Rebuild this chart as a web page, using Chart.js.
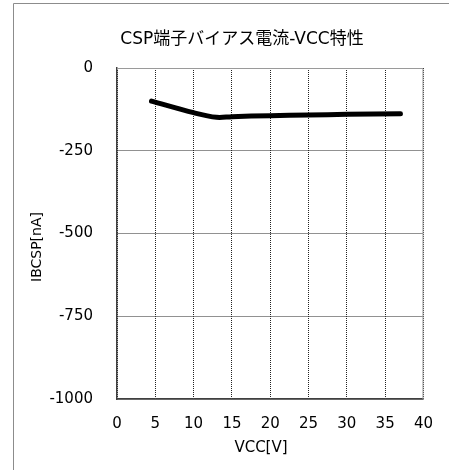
<!DOCTYPE html>
<html>
<head>
<meta charset="utf-8">
<script src="https://cdn.jsdelivr.net/npm/chart.js@4/dist/chart.umd.min.js"></script>
<style>
  html, body { margin: 0; padding: 0; background: #fff; }
  canvas { display: block; }
</style>
</head>
<body>
<canvas id="chart" width="449" height="470"></canvas>
<script>
// VCC [V] vs IBCSP [nA]
const vcc   = [4.5, 10, 13, 15, 20, 25, 30, 37];
const ibcsp = [-100, -135, -149, -147, -144, -142, -140, -138];

const xTicks = [0, 5, 10, 15, 20, 25, 30, 35, 40];
const yTicks = [0, -250, -500, -750, -1000];

const chartTitle = 'CSP端子バイアス電流-VCC特性';
const xTitle = 'VCC[V]';
const yTitle = 'IBCSP[nA]';

const FONT = '"DejaVu Sans", "Noto Sans CJK JP", sans-serif';

// frame, solid top/right edges and the titles
const decor = {
  id: 'decor',
  afterDraw(chart) {
    const { ctx, chartArea: a } = chart;
    ctx.save();
    ctx.strokeStyle = '#8c8c8c';
    ctx.lineWidth = 1;
    ctx.beginPath();
    ctx.moveTo(13.5, 470);
    ctx.lineTo(13.5, 3.5);
    ctx.lineTo(449, 3.5);
    ctx.stroke();

    ctx.strokeStyle = '#9a9a9a';
    ctx.beginPath();
    ctx.moveTo(a.left, a.top + 0.5);
    ctx.lineTo(a.right - 0.5, a.top + 0.5);
    ctx.lineTo(a.right - 0.5, a.bottom);
    ctx.stroke();

    ctx.fillStyle = '#000';
    ctx.textAlign = 'center';
    ctx.textBaseline = 'middle';
    ctx.font = '17px ' + FONT;
    ctx.fillText(chartTitle, 242, 40);
    ctx.font = '15px ' + FONT;
    ctx.fillText(xTitle, 261, 448);
    ctx.translate(37, 247);
    ctx.rotate(-Math.PI / 2);
    ctx.font = '14px ' + FONT;
    ctx.fillText(yTitle, 0, 0);
    ctx.restore();
  }
};

new Chart(document.getElementById('chart'), {
  type: 'scatter',
  data: {
    datasets: [{
      data: vcc.map((v, i) => ({ x: v, y: ibcsp[i] })),
      showLine: true,
      borderColor: '#000',
      borderWidth: 5,
      borderCapStyle: 'round',
      borderJoinStyle: 'round',
      tension: 0.35,
      pointRadius: 0,
    }]
  },
  options: {
    responsive: false,
    animation: false,
    layout: { padding: { left: 14, right: 23, top: 68, bottom: 0 } },
    plugins: { legend: { display: false }, tooltip: { enabled: false } },
    scales: {
      x: {
        type: 'linear',
        min: 0, max: 40,
        afterBuildTicks: s => { s.ticks = xTicks.map(v => ({ value: v })); },
        afterFit: s => { s.height = 71; },
        ticks: { color: '#000', padding: 16, font: { family: FONT, size: 15 }, callback: v => String(v) },
        grid: { color: '#222', drawTicks: false, lineWidth: 1 },
        border: { color: '#404040', width: 1.5, dash: [1, 1] },
      },
      y: {
        type: 'linear',
        min: -1000, max: 0,
        afterBuildTicks: s => { s.ticks = yTicks.map(v => ({ value: v })); },
        afterFit: s => { s.width = 103; },
        ticks: { color: '#000', padding: 24, font: { family: FONT, size: 15 }, callback: v => String(v) },
        grid: { color: '#222', drawTicks: false, lineWidth: 1 },
        border: { color: '#404040', width: 1.5, dash: [1, 1] },
      }
    }
  },
  plugins: [decor]
});
</script>
</body>
</html>
